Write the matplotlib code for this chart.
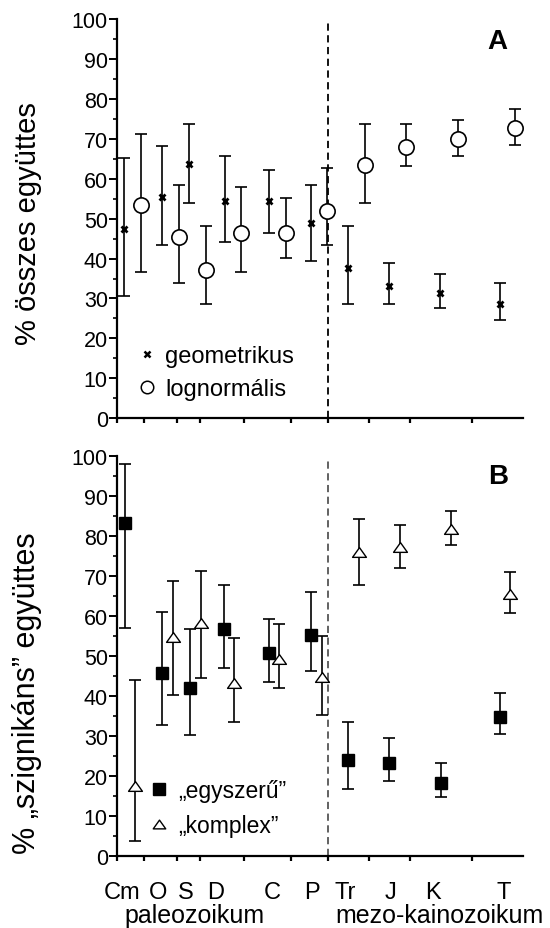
"""
Két panel: A - geometrikus / lognormális, B - „egyszerű” / „komplex”
x tengely: földtörténeti idő (Ma), balra az idősebb.
"""

import numpy as np
import matplotlib
matplotlib.use("Agg")
import matplotlib.pyplot as plt
from matplotlib.lines import Line2D
from matplotlib.path import Path
import matplotlib.transforms as mtransforms

plt.rcParams["font.family"] = ["Liberation Sans", "DejaVu Sans"]

# ── Időskála ────────────────────────────────────────────────────────────────
BOUNDS = [514, 481, 438, 409, 354, 294, 247, 196, 144, 65]   # időszak-határok (Ma)
X_END = 0
PERIODS = ["Cm", "O", "S", "D", "C", "P", "Tr", "J", "K", "T"]
PERIOD_LABEL_X = [508, 463, 428, 390, 318, 268, 226, 168, 114, 25]
ERAS = ["paleozoikum", "mezo-kainozoikum"]
ERA_LABEL_X = [417, 106]
PT_BOUNDARY = 247

# ── A panel ─────────────────────────────────────────────────────────────────
geo_x = [506, 458, 423, 378, 322, 269, 222, 170, 105, 30]
geo_y = [47.4, 55.4, 63.7, 54.3, 54.3, 48.8, 37.6, 33.0, 31.3, 28.6]
geo_lo = [30.7, 43.5, 53.8, 44.2, 46.5, 39.3, 28.5, 28.5, 27.5, 24.5]
geo_hi = [65.1, 68.2, 73.6, 65.8, 62.1, 58.4, 48.2, 38.8, 36.2, 33.8]

lgn_x = [484, 436, 402, 358, 300, 248, 200, 148, 83, 11]
lgn_y = [53.4, 45.5, 37.2, 46.5, 46.5, 52.0, 63.4, 67.9, 69.9, 72.6]
lgn_lo = [36.7, 33.9, 28.5, 36.7, 40.1, 43.5, 53.8, 63.3, 65.8, 68.5]
lgn_hi = [71.3, 58.3, 48.2, 58.0, 55.2, 62.6, 73.6, 73.6, 74.7, 77.5]

# ── B panel ─────────────────────────────────────────────────────────────────
egy_x = [505, 457, 422, 379, 322, 269, 222, 170, 104, 30]
egy_y = [83.2, 45.6, 41.9, 56.75, 50.7, 55.25, 23.9, 23.1, 18.3, 34.6]
egy_lo = [56.9, 32.6, 30.1, 47.0, 43.4, 46.3, 16.6, 18.6, 14.75, 30.4]
egy_hi = [97.9, 60.9, 56.75, 67.7, 59.1, 65.9, 33.4, 29.4, 23.3, 40.6]

kom_x = [492, 444, 408, 366, 309, 255, 208, 156, 91, 17]
kom_y = [17.4, 54.6, 58.3, 43.3, 49.2, 44.7, 76.0, 77.2, 81.75, 65.5]
kom_lo = [3.75, 40.25, 44.5, 33.4, 41.9, 35.25, 67.7, 71.9, 77.75, 60.8]
kom_hi = [44.0, 68.75, 71.2, 54.4, 57.9, 55.0, 84.3, 82.6, 86.25, 71.0]

TRI = Path([(-1, -0.7), (1, -0.7), (0, 0.7), (-1, -0.7)],
           [Path.MOVETO, Path.LINETO, Path.LINETO, Path.CLOSEPOLY])

ERR_KW = dict(fmt="none", ecolor="black", elinewidth=1.2,
              capsize=4.5, capthick=1.2, zorder=2)


def style_axis(ax, dash_color):
    ax.set_xlim(BOUNDS[0], X_END)
    ax.set_ylim(0, 100)
    for s in ("top", "right"):
        ax.spines[s].set_visible(False)
    for s in ("left", "bottom"):
        ax.spines[s].set_linewidth(1.6)
    ax.set_yticks(np.arange(0, 101, 10))
    ax.set_yticks(np.arange(0, 101, 5), minor=True)
    ax.set_xticks(BOUNDS)
    ax.set_xticklabels([])
    ax.tick_params(axis="y", which="major", direction="out", length=5.5,
                   width=1.4, labelsize=15.5, pad=1.5)
    ax.tick_params(axis="y", which="minor", direction="out", length=2.8,
                   width=1.2)
    ax.tick_params(axis="x", which="major", direction="out", length=3.8,
                   width=1.6)
    ax.axvline(PT_BOUNDARY, ymax=0.99, color=dash_color, linewidth=1.3,
               linestyle=(0, (4, 2.5)), zorder=1)


def err(y, lo, hi):
    y = np.asarray(y)
    return [y - np.asarray(lo), np.asarray(hi) - y]


fig = plt.figure(figsize=(5.5, 9.29), dpi=100)
ax1 = fig.add_axes([0.2136, 0.5487, 0.7378, 0.4298])
ax2 = fig.add_axes([0.2136, 0.0778, 0.7378, 0.4306])

# ── A ──
style_axis(ax1, "black")
ax1.errorbar(geo_x, geo_y, yerr=err(geo_y, geo_lo, geo_hi), **ERR_KW)
ax1.errorbar(lgn_x, lgn_y, yerr=err(lgn_y, lgn_lo, lgn_hi), **ERR_KW)
ax1.plot(geo_x, geo_y, linestyle="none", marker="x", markersize=5,
         markeredgewidth=2.0, color="black", zorder=3)
ax1.plot(lgn_x, lgn_y, linestyle="none", marker="o", markersize=11,
         markerfacecolor="white", markeredgecolor="black",
         markeredgewidth=1.2, zorder=3)
ax1.set_ylabel("% összes együttes", fontsize=21)
ax1.yaxis.set_label_coords(-0.186, 0.49)
ax1.text(0.935, 0.945, "A", transform=ax1.transAxes, fontsize=20,
         fontweight="bold", ha="center", va="center")
hA = [Line2D([], [], linestyle="none", marker="x", markersize=5,
             markeredgewidth=1.8, color="black"),
      Line2D([], [], linestyle="none", marker="o", markersize=9,
             markerfacecolor="white", markeredgecolor="black",
             markeredgewidth=1.1)]
ax1.legend(hA, ["geometrikus", "lognormális"], loc="lower left",
           bbox_to_anchor=(0.05, 0.046), frameon=False, fontsize=17,
           handlelength=0.8, handletextpad=0.36, labelspacing=0.45,
           borderpad=0, borderaxespad=0)

# ── B ──
style_axis(ax2, "#555555")
ax2.errorbar(egy_x, egy_y, yerr=err(egy_y, egy_lo, egy_hi), **ERR_KW)
ax2.errorbar(kom_x, kom_y, yerr=err(kom_y, kom_lo, kom_hi), **ERR_KW)
ax2.plot(egy_x, egy_y, linestyle="none", marker="s", markersize=9,
         color="black", zorder=3)
ax2.plot(kom_x, kom_y, linestyle="none", marker=TRI, markersize=10,
         markerfacecolor="white", markeredgecolor="black",
         markeredgewidth=1.0, zorder=3)
ax2.set_ylabel("% \u201eszignikáns\u201d együttes", fontsize=22)
ax2.yaxis.set_label_coords(-0.186, 0.41)
ax2.text(0.937, 0.95, "B", transform=ax2.transAxes, fontsize=20,
         fontweight="bold", ha="center", va="center")
hB = [Line2D([], [], linestyle="none", marker="s", markersize=9,
             color="black"),
      Line2D([], [], linestyle="none", marker=TRI, markersize=9,
             markerfacecolor="white", markeredgecolor="black",
             markeredgewidth=1.0)]
ax2.legend(hB, ["\u201eegyszerű\u201d", "\u201ekomplex\u201d"], loc="lower left",
           bbox_to_anchor=(0.08, 0.047), frameon=False, fontsize=16.5,
           handlelength=0.8, handletextpad=0.45, labelspacing=0.5,
           borderpad=0, borderaxespad=0)

# időszak- és idő-ára feliratok
trans = mtransforms.blended_transform_factory(ax2.transData, ax2.transAxes)
for lab, x in zip(PERIODS, PERIOD_LABEL_X):
    ax2.text(x, -0.09, lab, transform=trans, fontsize=17,
             ha="center", va="center", clip_on=False)
for lab, x in zip(ERAS, ERA_LABEL_X):
    ax2.text(x, -0.148, lab, transform=trans, fontsize=18,
             ha="center", va="center", clip_on=False)

fig.savefig("out.png", dpi=100)
